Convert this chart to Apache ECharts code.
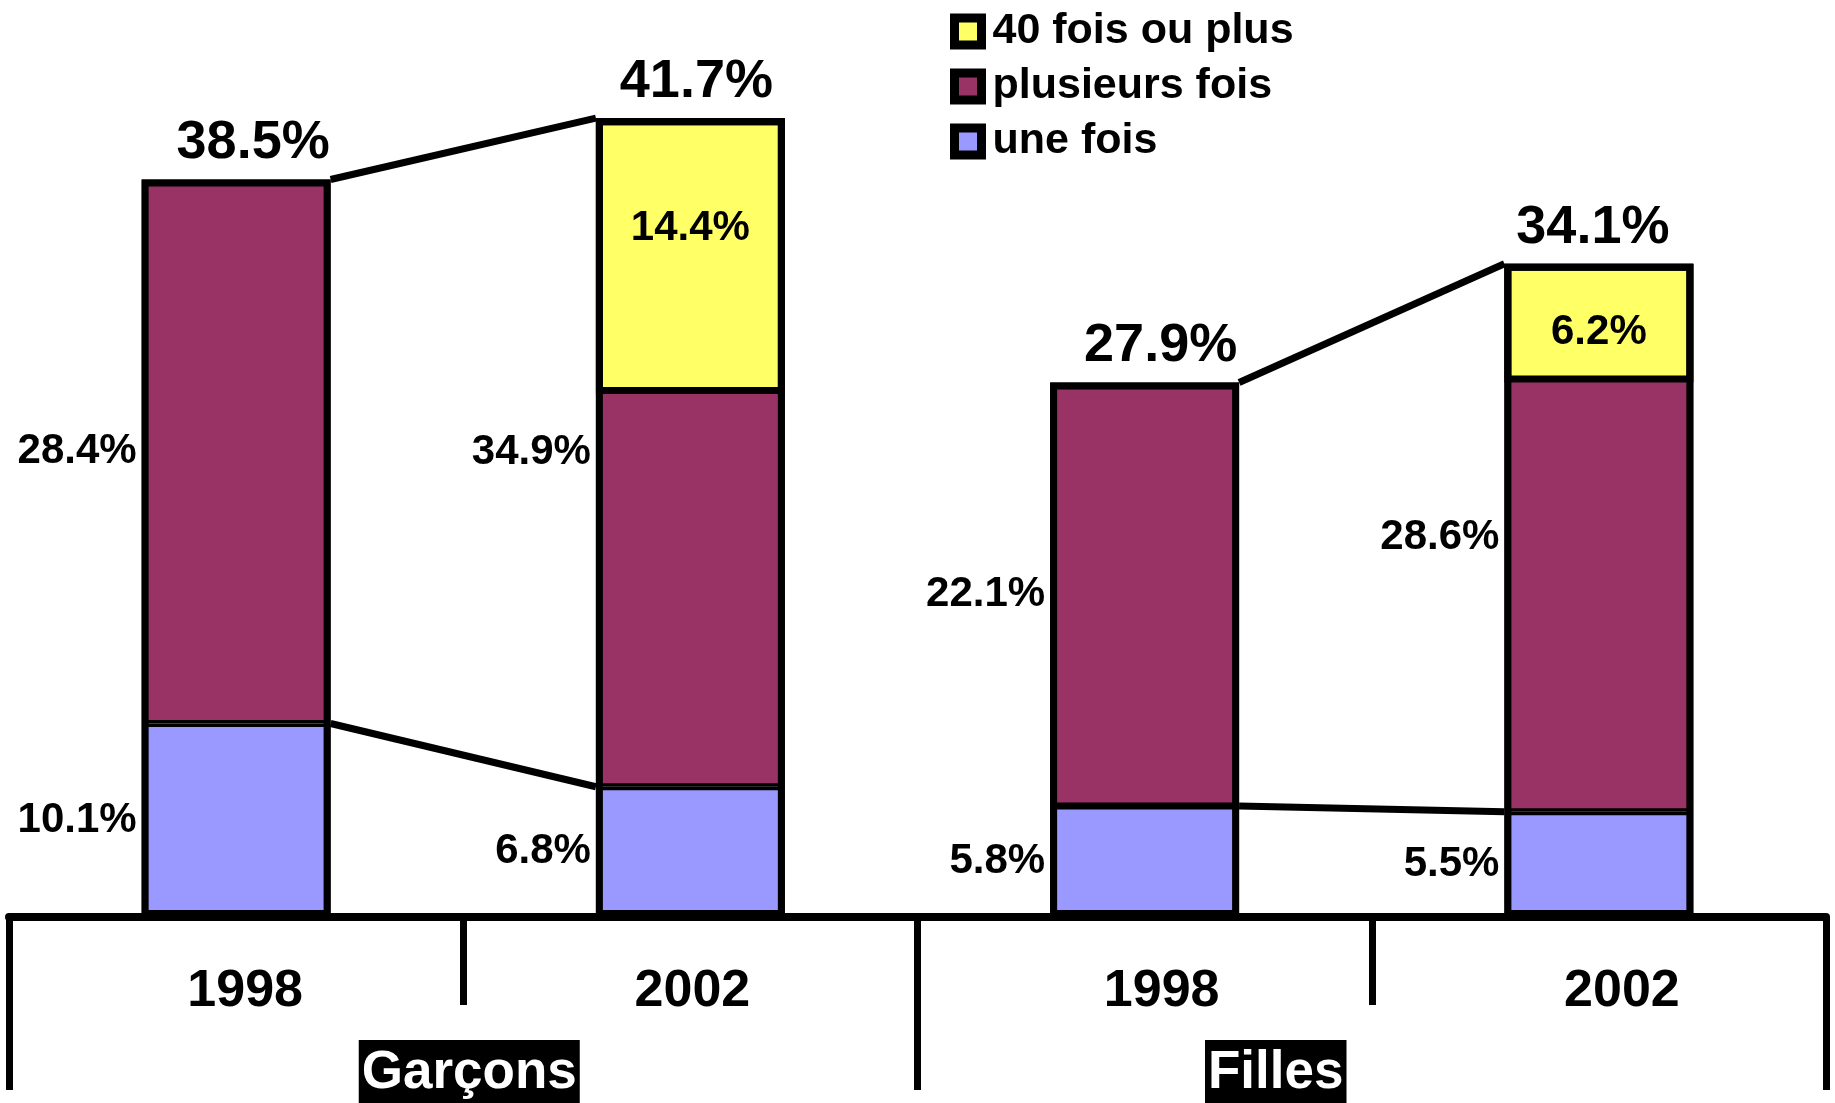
<!DOCTYPE html>
<html>
<head>
<meta charset="utf-8">
<title>Garçons / Filles 1998 - 2002</title>
<script src="https://cdn.jsdelivr.net/npm/echarts@6/dist/echarts.min.js"></script>
<style>
  html, body { margin: 0; padding: 0; background: #fff; }
  #main { width: 1835px; height: 1103px; }
</style>
</head>
<body>
<div id="main"></div>
<script>
// axe à deux niveaux
const annees = ['1998', '2002', '1998', '2002'];
const groupes = ['Garçons', 'Filles'];
// valeurs (%)
const uneFois = [10.1, 6.8, 5.8, 5.5];
const plusieursFois = [28.4, 34.9, 22.1, 28.6];
const quaranteFois = [null, 14.4, null, 6.2];   // compris dans "plusieurs fois"
const totaux = [38.5, 41.7, 27.9, 34.1];

const police = "'Liberation Sans', Arial, Helvetica, sans-serif";
const largeurBarre = 0.416;   // part de la bande
// petits décalages des libellés, comme dans l'original (px)
const decalageAnnee = [9, 2, 17, 23];
const decalageTotal = [17, 6, 16, -6];
const decalageJaune = [0, -28, 0, 9];   // vertical

const myChart = echarts.init(document.getElementById('main'));

// base invisible sous le jaune (le jaune est dessiné par-dessus le violet)
const baseJaune = quaranteFois.map((q, i) =>
  q == null ? '-' : +(uneFois[i] + plusieursFois[i] - q).toFixed(1));

// liaisons 1998 -> 2002 : haut de barre et haut du bleu
const liaisons = [];
for (let i = 0; i < annees.length; i += 2) {
  liaisons.push([i, totaux[i], totaux[i + 1]]);
  liaisons.push([i, uneFois[i], uneFois[i + 1]]);
}

const texteLabel = { color: '#000', fontWeight: 'bold', fontFamily: police };

// texte riche décalé : un blanc invisible avant (ou après) le libellé
function decale(texte, style, d) {
  const blanc = '{b' + Math.round(Math.abs(d * 2)) + '|}';
  const t = '{' + style + '|' + texte + '}';
  return d >= 0 ? blanc + t : t + blanc;
}
function decaleV(texte, style, d) {
  const t = '{' + style + '|' + texte + '}';
  if (!d) return t;
  const blanc = '{h' + Math.round(Math.abs(d * 2)) + '|}';
  return d > 0 ? blanc + '\n' + t : t + '\n' + blanc;
}
const blancs = {};
[...decalageAnnee, ...decalageTotal].forEach(d => {
  blancs['b' + Math.round(Math.abs(d * 2))] = { width: Math.round(Math.abs(d * 2)) };
});
decalageJaune.forEach(d => {
  blancs['h' + Math.round(Math.abs(d * 2))] = { height: Math.round(Math.abs(d * 2)), fontSize: 1 };
});

function barre(nom, pile, donnees, style) {
  return {
    name: nom,
    type: 'bar',
    stack: pile,
    barWidth: (largeurBarre * 100) + '%',
    barGap: '-100%',
    data: donnees,
    itemStyle: style
  };
}

const serieUne = barre('une fois', 'main', uneFois,
  { color: '#9999FF', borderColor: '#000', borderWidth: 3.5 });
serieUne.label = Object.assign({ show: true, position: 'left', distance: 5, fontSize: 42,
  formatter: p => p.value + '%' }, texteLabel);

const seriePlusieurs = barre('plusieurs fois', 'main', plusieursFois,
  { color: '#993366', borderColor: '#000', borderWidth: 3.5 });
seriePlusieurs.label = Object.assign({ show: true, position: 'left', distance: 5, fontSize: 42,
  formatter: p => p.value + '%' }, texteLabel);

const serieBase = barre('base', 'dessus', baseJaune, { color: 'transparent', borderWidth: 0 });
serieBase.silent = true;

const serieQuarante = barre('40 fois ou plus', 'dessus', quaranteFois.map(q => q == null ? '-' : q),
  { color: '#FFFF66', borderColor: '#000', borderWidth: 7 });
serieQuarante.label = {
  show: true, position: 'inside',
  formatter: p => decaleV(p.value + '%', 'j', decalageJaune[p.dataIndex]),
  rich: Object.assign({ j: Object.assign({ fontSize: 42 }, texteLabel) }, blancs)
};

// contour noir de chaque barre + total au-dessus
const serieTotal = barre('total', 'contour', totaux,
  { color: 'transparent', borderColor: '#000', borderWidth: 7 });
serieTotal.silent = true;
serieTotal.label = {
  show: true, position: 'top', distance: 9,
  formatter: p => decale(p.value + '%', 't', decalageTotal[p.dataIndex]),
  rich: Object.assign({ t: Object.assign({ fontSize: 54 }, texteLabel) }, blancs)
};

myChart.setOption({
  animation: false,
  backgroundColor: '#fff',
  grid: { left: 9, right: 9, top: 55, bottom: 186, containLabel: false, outerBoundsMode: 'none' },
  legend: {
    data: ['40 fois ou plus', 'plusieurs fois', 'une fois'],
    orient: 'vertical',
    left: 945,
    top: 5,
    itemWidth: 27,
    itemHeight: 27,
    itemGap: 12,
    icon: 'rect',
    selectedMode: false,
    itemStyle: { borderColor: '#000', borderWidth: 9 },
    textStyle: Object.assign({ fontSize: 43, padding: [0, 0, 0, 6] }, texteLabel)
  },
  xAxis: [
    {
      type: 'category',
      data: annees,
      position: 'bottom',
      axisLine: { show: true, lineStyle: { color: '#000', width: 8 } },
      axisTick: { show: true, length: 88, lineStyle: { color: '#000', width: 7 } },
      axisLabel: {
        interval: 0,
        margin: 49,
        formatter: (v, i) => decale(v, 'a', decalageAnnee[i]),
        rich: Object.assign({ a: Object.assign({ fontSize: 52 }, texteLabel) }, blancs)
      }
    },
    {
      type: 'category',
      data: groupes,
      position: 'bottom',
      axisLine: { show: false },
      axisTick: { show: true, length: 173, lineStyle: { color: '#000', width: 7 } },
      axisLabel: {
        interval: 0,
        margin: 123,
        formatter: function (v, i) {
          // "Filles" n'est pas centré sur son groupe dans l'original
          return i === 1 ? '{boite|' + v + '}{vide|}' : '{g|}{boite|' + v + '}';
        },
        rich: {
          boite: {
            backgroundColor: '#000', color: '#fff', fontSize: 53,
            fontWeight: 'bold', fontFamily: police, padding: [7, 3, 20, 3]
          },
          g: { width: 12 },
          vide: { width: 192 }
        }
      }
    }
  ],
  yAxis: { type: 'value', min: 0, max: 45, show: false },
  series: [
    serieUne,
    seriePlusieurs,
    serieBase,
    serieQuarante,
    serieTotal,
    {
      name: 'liaisons',
      type: 'custom',
      silent: true,
      z: 3,
      data: liaisons,
      encode: { x: 0, y: [1, 2] },
      renderItem: function (params, api) {
        const i = api.value(0);
        const p1 = api.coord([i, api.value(1)]);
        const p2 = api.coord([i + 1, api.value(2)]);
        const demi = api.size([1, 0])[0] * largeurBarre / 2;
        return {
          type: 'line',
          shape: { x1: p1[0] + demi, y1: p1[1], x2: p2[0] - demi, y2: p2[1] },
          style: { stroke: '#000', lineWidth: 7 }
        };
      }
    }
  ]
});
</script>
</body>
</html>
